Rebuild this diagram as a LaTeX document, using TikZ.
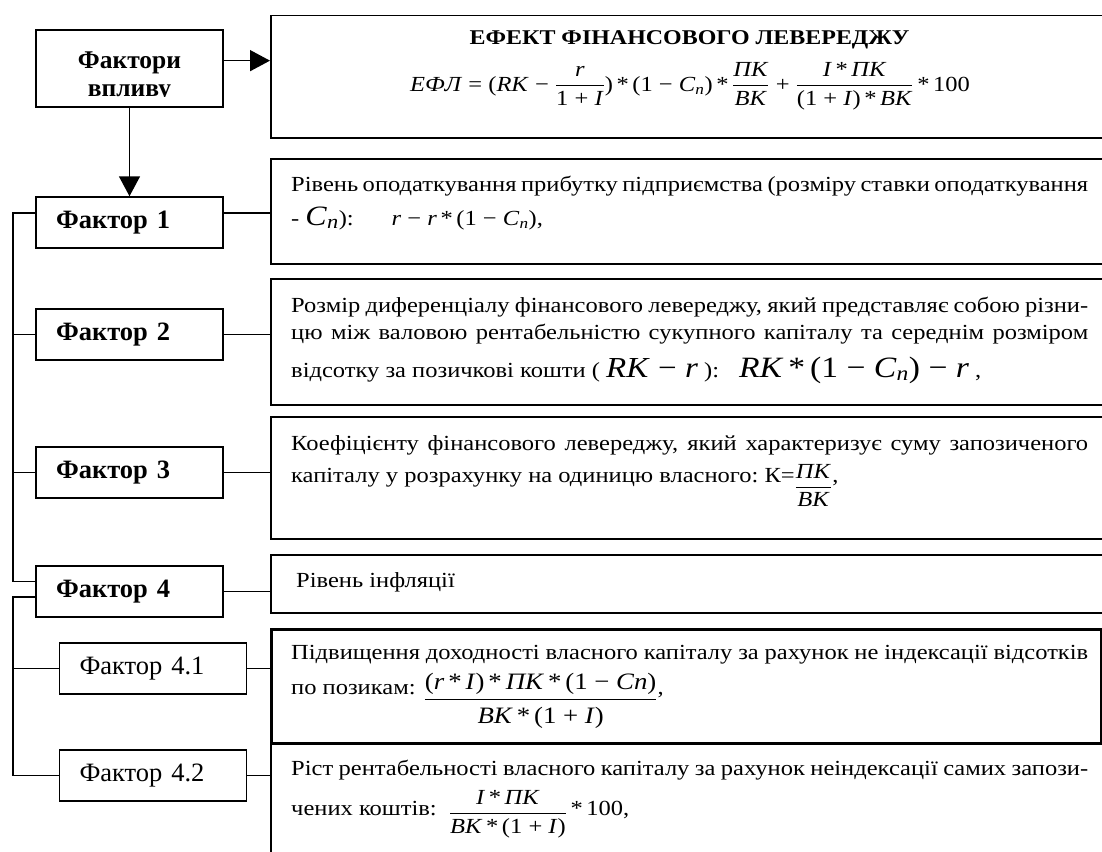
\documentclass[tikz,border=0pt]{standalone}
\usepackage{fontspec}
\setmainfont[FakeStretch=1.14]{Liberation Serif}
\newfontfamily\lab{Liberation Serif}
\usepackage{amsmath}
\usetikzlibrary{arrows.meta,calc}
\newcommand{\fr}[2]{\ensuremath{\dfrac{\text{#1}}{\text{#2}}}}
\newcommand{\iv}[1]{\textit{#1}}
\newcommand{\sbn}{\ensuremath{_{\text{\itshape n}}}}
\newcommand{\jl}[1]{\makebox[797pt][s]{#1}}
\begin{document}
\begin{tikzpicture}[x=1pt,y=-1pt,
  every node/.style={inner sep=0pt, font=\fontsize{21.5}{26}\selectfont},
  fbox/.style={draw, line width=1.5pt, minimum height=51pt, text width=147pt, inner xsep=20pt, align=left, font=\lab\fontsize{26.5}{30}\selectfont\bfseries},
  sbox/.style={fbox, font=\lab\fontsize{26.5}{30}\selectfont},
  rbox/.style={draw, line width=1.5pt, anchor=north west},
  txt/.style={anchor=base west},
  arr/.style={line width=1.5pt, -{Triangle[length=20pt,width=21pt]}},
  con/.style={line width=1.5pt}]
\path[use as bounding box] (0,0) rectangle (1102,851);
\clip (0,0) rectangle (1102,851);

% left boxes
\node[draw, line width=1.5pt, minimum width=187pt, minimum height=77pt] (fv) at (129.5,68.5) {};
\begin{scope}
\clip (36,30) rectangle (223,96.5);
\node[align=center, font=\lab\fontsize{25.5}{28}\selectfont\bfseries] (fvt) at (129.5,77) {Фактори\\впливу};
\end{scope}
\node[fbox] (f1) at (129.5,222.5) {Фактор 1};
\node[fbox] (f2) at (129.5,334.5) {Фактор 2};
\node[fbox] (f3) at (129.5,472.5) {Фактор 3};
\node[fbox] (f4) at (129.5,591.5) {Фактор 4};
\node[sbox] (f41) at (153,668.5) {Фактор 4.1};
\node[sbox] (f42) at (153,775.5) {Фактор 4.2};

% right boxes
\node[rbox, minimum width=900pt, minimum height=122pt] (b0) at (270,15) {};
\node[rbox, minimum width=900pt, minimum height=105pt] (b1) at (270,158) {};
\node[rbox, minimum width=900pt, minimum height=126pt] (b2) at (270,278) {};
\node[rbox, minimum width=900pt, minimum height=122pt] (b3) at (270,416) {};
\node[rbox, minimum width=900pt, minimum height=58pt] (b4) at (270,554) {};
\node[rbox, minimum width=900pt, minimum height=150pt] (b42) at (270,742) {};
\node[rbox, line width=2.5pt, minimum width=830pt, minimum height=114pt] (b41) at (270,628) {};

% texts
\node[font=\fontsize{21}{24}\selectfont\bfseries] (t0) at (689.5,40) {ЕФЕКТ ФІНАНСОВОГО ЛЕВЕРЕДЖУ};
\node[txt] (e0) at (410,91) {\iv{ЕФЛ} = (\iv{RK} − \fr{\iv{r}}{1 + \iv{I}})\,*\,(1 − \iv{C}\sbn)\,*\,\fr{\iv{ПК}}{\iv{ВК}} + \fr{\iv{I}\,*\,\iv{ПК}}{(1 + \iv{I})\,*\,\iv{ВК}}\,*\,100};

\node[txt] (t1a) at (291,191) {\jl{Рівень оподаткування прибутку підприємства (розміру ставки оподаткування}};
\node[txt] (t1b) at (291,225) {- {\fontsize{28}{28}\selectfont\iv{C}\sbn}):\hspace{38pt}\iv{r} − \iv{r}\,*\,(1 − \iv{C}\sbn),};

\node[txt] (t2a) at (291,312) {\jl{Розмір диференціалу фінансового левереджу, який представляє собою різни-}};
\node[txt] (t2b) at (291,339) {\jl{цю між валовою рентабельністю сукупного капіталу та середнім розміром}};
\node[txt] (t2c) at (291,377) {відсотку за позичкові кошти ( {\fontsize{29}{32}\selectfont\iv{RK} − \iv{r}} ):\hspace{20pt}{\fontsize{29.5}{34}\selectfont\iv{RK}\,*\,(1 − \iv{C}\sbn) − \iv{r}} ,};

\node[txt] (t3a) at (291,450) {\jl{Коефіцієнту фінансового левереджу, який характеризує суму запозиченого}};
\node[txt] (t3b) at (291,482) {капіталу у розрахунку на одиницю власного:\ К=\raisebox{-10.5pt}{\fr{\iv{ПК}}{\iv{ВК}}},};

\node[txt] (t4) at (296,587) {Рівень інфляції};

\node[txt] (t41a) at (291,659) {\jl{Підвищення доходності власного капіталу за рахунок не індексації відсотків}};
\node[txt] (t41b) at (291,694) {по позикам: \raisebox{-12pt}{{\fontsize{23.5}{24}\selectfont\fr{(\iv{r}\,*\,\iv{I})\,*\,\iv{ПК}\,*\,(1 − \iv{Cn})}{\iv{ВК}\,*\,(1 + \iv{I})}}},};

\node[txt] (t42a) at (291,775) {\jl{Ріст рентабельності власного капіталу за рахунок неіндексації самих запози-}};
\node[txt] (t42b) at (291,815) {чених коштів:\ \ \raisebox{-4pt}{\fr{\iv{I}\,*\,\iv{ПК}}{\iv{ВК}\,*\,(1 + \iv{I})}}\,*\,100,};

% connectors
\coordinate (fa) at ($(fv.north east)!0.4!(fv.south east)$);
\draw[arr] (fa) -- (fa -| b0.west);
\draw[arr] (fv.south) -- (f1.north);
\draw[con] ([yshift=9.5pt]f1.east) -- ([yshift=9.5pt]f1.east -| b1.west);
\draw[con] (f2.east) -- (f2.east -| b2.west);
\draw[con] (f3.east) -- (f3.east -| b3.west);
\draw[con] (f4.east) -- (f4.east -| b4.west);
\draw[con] (f41.east) -- (f41.east -| b41.west);
\draw[con] (f42.east) -- (f42.east -| b42.west);
\coordinate (ua) at (13,0);
\draw[con] ([yshift=9.5pt]f1.west) -- ([yshift=9.5pt]f1.west -| ua) |- ([yshift=10pt]f4.west);
\draw[con] (f2.west -| ua) -- (f2.west);
\draw[con] (f3.west -| ua) -- (f3.west);
\draw[con] ([yshift=-5.5pt]f4.west) -- ([yshift=-5.5pt]f4.west -| ua) |- (f42.west);
\draw[con] (f41.west -| ua) -- (f41.west);
\end{tikzpicture}
\end{document}
